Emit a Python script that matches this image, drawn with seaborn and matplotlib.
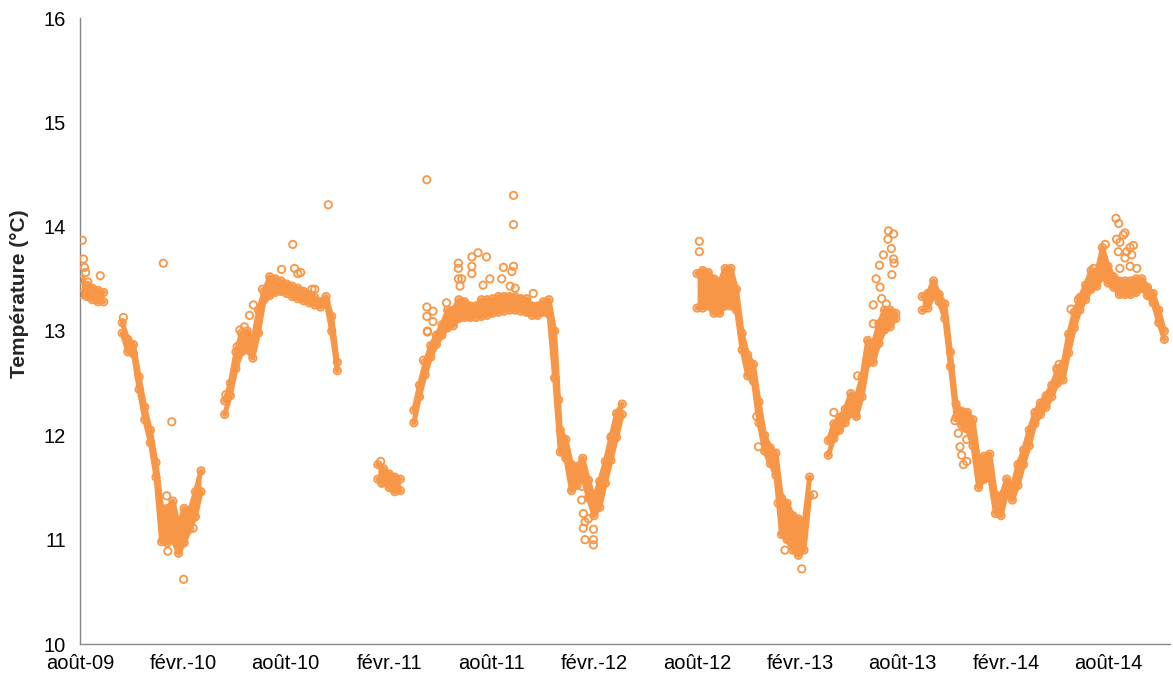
import numpy as np
import pandas as pd
import matplotlib
matplotlib.use("Agg")
import matplotlib.pyplot as plt
import seaborn as sns

ORANGE = "#F79646"
START = pd.Timestamp("2009-08-01")
STEP = 10  # days between two readings inside a logger run

# first reading of each run, in days since 1 Aug 2009
run_start_day = [2, 75, 257, 529, 593, 1096, 1329, 1496]

# lower / upper edge of the cloud of readings (°C), one value every STEP days
run1_lo = [13.35, 13.33, 13.30, 13.28, 13.28]
run1_hi = [13.49, 13.44, 13.41, 13.39, 13.37]

run2_lo = [12.98, 12.80, 12.78, 12.44, 12.15, 11.93, 11.60, 10.98, 10.97, 11.00,
           10.87, 10.97, 11.10, 11.22, 11.46]
run2_hi = [13.08, 12.92, 12.87, 12.56, 12.27, 12.05, 11.74, 11.30, 11.30, 11.37,
           11.13, 11.30, 11.28, 11.46, 11.66]

run3_lo = [12.20, 12.38, 12.64, 12.80, 12.82, 12.74, 12.98, 13.30, 13.34, 13.37,
           13.38, 13.36, 13.33, 13.31, 13.29, 13.27, 13.25, 13.23, 13.28, 13.00, 12.62]
run3_hi = [12.33, 12.50, 12.80, 12.98, 13.00, 12.90, 13.20, 13.38, 13.52, 13.50,
           13.48, 13.45, 13.43, 13.41, 13.38, 13.35, 13.32, 13.28, 13.33, 13.14, 12.70]

run4_lo = [11.58, 11.55, 11.50, 11.46, 11.47]
run4_hi = [11.72, 11.68, 11.63, 11.60, 11.58]

run5_lo = [12.12, 12.37, 12.58, 12.75, 12.87, 12.96, 13.03, 13.05, 13.12, 13.13,
           13.13, 13.13, 13.14, 13.15, 13.17, 13.18, 13.19, 13.20, 13.20, 13.19,
           13.18, 13.15, 13.15, 13.18, 13.16, 12.55, 11.84, 11.78, 11.47, 11.52,
           11.60, 11.40, 11.23, 11.31, 11.54, 11.76, 11.98, 12.20]
run5_hi = [12.24, 12.48, 12.70, 12.86, 12.96, 13.06, 13.20, 13.20, 13.30, 13.28,
           13.24, 13.24, 13.30, 13.30, 13.31, 13.33, 13.33, 13.33, 13.33, 13.31,
           13.31, 13.24, 13.24, 13.28, 13.30, 13.00, 12.05, 11.96, 11.72, 11.70,
           11.78, 11.57, 11.39, 11.56, 11.75, 11.98, 12.21, 12.30]

run6_lo = [13.22, 13.22, 13.24, 13.17, 13.17, 13.24, 13.24, 13.20, 12.82, 12.57,
           12.52, 12.12, 11.85, 11.73, 11.62, 11.05, 11.00, 10.90, 10.85, 10.90, 11.42]
run6_hi = [13.55, 13.58, 13.56, 13.50, 13.47, 13.60, 13.60, 13.40, 12.98, 12.77,
           12.68, 12.32, 12.00, 11.88, 11.83, 11.40, 11.35, 11.23, 11.20, 11.15, 11.60]

run7_lo = [11.81, 11.97, 12.05, 12.12, 12.21, 12.18, 12.37, 12.69, 12.70, 12.88,
           13.01, 13.04, 13.12]
run7_hi = [11.95, 12.11, 12.17, 12.25, 12.40, 12.37, 12.56, 12.91, 12.88, 13.07,
           13.20, 13.20, 13.17]

run8_lo = [13.20, 13.22, 13.34, 13.28, 13.12, 12.66, 12.17, 12.10, 12.06, 11.90,
           11.50, 11.58, 11.60, 11.25, 11.23, 11.45, 11.38, 11.52, 11.72, 11.90,
           12.11, 12.20, 12.27, 12.37, 12.50, 12.53, 12.79, 13.03, 13.20, 13.30,
           13.40, 13.43, 13.52, 13.46, 13.42, 13.35, 13.35, 13.35, 13.37, 13.41,
           13.34, 13.27, 13.08, 12.92]
run8_hi = [13.33, 13.36, 13.48, 13.35, 13.26, 12.80, 12.30, 12.23, 12.22, 12.15,
           11.76, 11.80, 11.82, 11.43, 11.42, 11.58, 11.50, 11.72, 11.86, 12.05,
           12.22, 12.31, 12.38, 12.48, 12.62, 12.68, 12.97, 13.18, 13.32, 13.44,
           13.58, 13.56, 13.80, 13.62, 13.52, 13.48, 13.48, 13.48, 13.50, 13.50,
           13.42, 13.36, 13.20, 13.00]

# isolated readings outside the main cloud
outlier_day = [4, 6, 8, 10, 14, 36,
               77, 148, 154, 156, 163, 184, 201,
               259, 279, 284, 292, 301, 308, 324, 358, 378, 381, 387, 392, 412, 417, 441,
               534, 536,
               610, 616, 616, 616, 617, 617, 627, 627, 651, 672, 672, 672, 675, 678,
               696, 696, 696, 707, 716, 722, 728, 749, 752, 764, 767, 770, 770, 770,
               773, 805, 844, 850, 891, 891, 894, 894, 897, 897, 903, 912, 912, 912, 944,
               1100, 1100, 1202, 1205, 1240, 1252, 1282, 1303,
               1339, 1381, 1409, 1409, 1414, 1420, 1421, 1424, 1427, 1432, 1435, 1436,
               1441, 1442, 1445, 1445, 1446,
               1554, 1560, 1563, 1566, 1569, 1572, 1575, 1575, 1608, 1609,
               1735, 1739, 1760, 1773, 1800, 1821, 1840, 1841, 1844, 1845, 1847, 1847,
               1853, 1856, 1856, 1859, 1865, 1865, 1868, 1871, 1877]
outlier_temp = [13.87, 13.69, 13.61, 13.56, 13.47, 13.53,
                13.13, 13.65, 11.42, 10.89, 12.13, 10.62, 11.11,
                12.39, 12.85, 13.01, 13.04, 13.15, 13.25, 13.40, 13.59, 13.83, 13.60, 13.55,
                13.56, 13.40, 13.40, 14.21,
                11.75, 11.54,
                12.72, 13.23, 13.14, 14.45, 12.99, 13.00, 13.19, 13.09, 13.27, 13.65, 13.60,
                13.50, 13.43, 13.50,
                13.71, 13.62, 13.55, 13.75, 13.44, 13.71, 13.50, 13.50, 13.61, 13.43, 13.57,
                14.30, 14.02, 13.62,
                13.41, 13.36, 12.55, 12.34, 11.51, 11.38, 11.25, 11.11, 11.17, 11.00, 11.20,
                11.00, 10.95, 11.10, 11.99,
                13.86, 13.76, 12.18, 11.89, 11.35, 10.90, 10.72, 11.43,
                12.22, 12.57, 13.25, 13.07, 13.50, 13.63, 13.42, 13.31, 13.73, 13.26, 13.88,
                13.96, 13.79, 13.54, 13.93, 13.69, 13.65,
                12.14, 12.02, 11.89, 11.81, 11.72, 12.07, 11.75, 11.96, 11.60, 11.73,
                12.64, 12.68, 13.21, 13.30, 13.60, 13.83, 14.08, 13.88, 13.76, 14.03, 13.85,
                13.60, 13.92, 13.94, 13.70, 13.76, 13.80, 13.62, 13.73, 13.82, 13.60]

tick_dates = ["2009-08-01", "2010-02-01", "2010-08-01", "2011-02-01", "2011-08-01",
              "2012-02-01", "2012-08-01", "2013-02-01", "2013-08-01", "2014-02-01",
              "2014-08-01"]
tick_labels = ["août-09", "févr.-10", "août-10", "févr.-11", "août-11", "févr.-12",
               "août-12", "févr.-13", "août-13", "févr.-14", "août-14"]

runs = [(run1_lo, run1_hi), (run2_lo, run2_hi), (run3_lo, run3_hi), (run4_lo, run4_hi),
        (run5_lo, run5_hi), (run6_lo, run6_hi), (run7_lo, run7_hi), (run8_lo, run8_hi)]

frames = []
for i, (d0, (lo, hi)) in enumerate(zip(run_start_day, runs)):
    days = d0 + STEP * np.arange(len(lo))
    frames.append(pd.DataFrame({
        "date": START + pd.to_timedelta(days, unit="D"),
        "lo": lo, "hi": hi, "run": i}))
band = pd.concat(frames, ignore_index=True)

points = pd.concat([
    band[["date", "lo"]].rename(columns={"lo": "temp"}),
    band[["date", "hi"]].rename(columns={"hi": "temp"}),
    pd.DataFrame({"date": START + pd.to_timedelta(outlier_day, unit="D"),
                  "temp": outlier_temp}),
], ignore_index=True)

sns.set_style("white")
plt.rcParams["font.family"] = ["Liberation Sans", "DejaVu Sans"]

fig = plt.figure(figsize=(11.73, 6.79), dpi=100)
ax = fig.add_axes([80 / 1173, 35 / 679, 1090 / 1173, 626 / 679])

# dense cloud of readings: filled envelope with thick edges
for _, g in band.groupby("run"):
    ax.fill_between(g["date"], g["lo"], g["hi"], color=ORANGE, lw=0, zorder=2)
    for col in ["lo", "hi"]:
        sns.lineplot(data=g, x="date", y=col, ax=ax, color=ORANGE, lw=3.6,
                     estimator=None, sort=False, zorder=2,
                     solid_capstyle="round", solid_joinstyle="round")

sns.scatterplot(data=points, x="date", y="temp", ax=ax, marker="o", s=28,
                facecolor="none", edgecolor=ORANGE, linewidth=1.3, zorder=3,
                legend=False)

ax.set_xlim(START, pd.Timestamp("2014-11-19"))
ax.set_ylim(10, 16)
ax.set_yticks(range(10, 17))
ax.set_xticks(pd.to_datetime(tick_dates))
ax.set_xticklabels(tick_labels)
ax.set_xlabel("")
ax.set_ylabel("Température (°C)", fontsize=15, fontweight="bold")
ax.yaxis.set_label_coords(-0.047, 0.56)

for side in ["top", "right"]:
    ax.spines[side].set_visible(False)
for side in ["left", "bottom"]:
    ax.spines[side].set_color("#868686")
    ax.spines[side].set_linewidth(1)
ax.tick_params(axis="both", which="major", direction="out", length=5, width=1,
               color="#868686", labelsize=14.5, labelcolor="#000000")
ax.tick_params(axis="y", pad=5)
ax.tick_params(axis="x", pad=2)

fig.savefig("out.png", dpi=100)
